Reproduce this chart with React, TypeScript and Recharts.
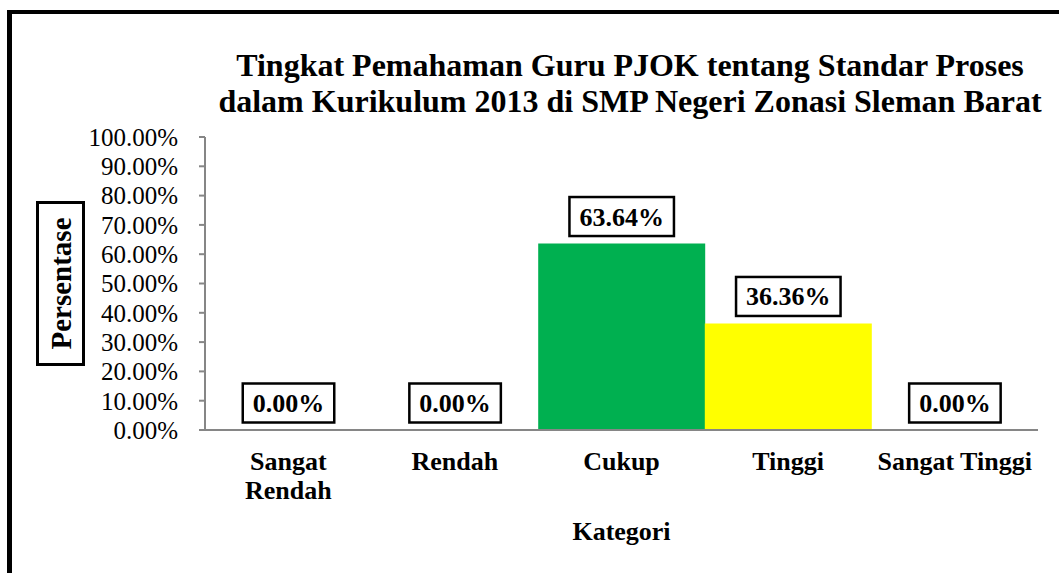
import { BarChart, Bar, XAxis, YAxis, Cell, LabelList } from 'recharts'

const kategori = ['Sangat Rendah', 'Rendah', 'Cukup', 'Tinggi', 'Sangat Tinggi']
const persentase = [0, 0, 63.64, 36.36, 0]
const warna = ['none', 'none', '#00B050', '#FFFF00', 'none']
const yTicks = [0, 10, 20, 30, 40, 50, 60, 70, 80, 90, 100]

const judul = [
  'Tingkat Pemahaman Guru PJOK tentang Standar Proses',
  'dalam Kurikulum 2013 di SMP Negeri Zonasi Sleman Barat',
]

const data = kategori.map((k, i) => ({ kategori: k, nilai: persentase[i] }))

const FONT = '"Liberation Serif", "Times New Roman", serif'

let ctx: CanvasRenderingContext2D | null = null
function measure(text: string, font: string) {
  if (!ctx) ctx = document.createElement('canvas').getContext('2d')
  if (!ctx) return text.length * 13
  ctx.font = font
  return ctx.measureText(text).width
}

function fmt(v: number) {
  return v.toFixed(2) + '%'
}

// excel style boxed data label
function BoxLabel(props: any) {
  const { x, y, width, height, value } = props
  const text = fmt(Number(value))
  const w = measure(text, `bold 26px ${FONT}`) + 20
  const h = 39
  const cx = x + width / 2
  const top = height < 0 ? y + height : y
  const cy = (Number(value) === 0 ? y + height : top) - 27
  return (
    <g>
      <rect x={cx - w / 2} y={cy - h / 2} width={w} height={h} fill="#fff" stroke="#000" strokeWidth={2.5} />
      <text x={cx} y={cy + 9} textAnchor="middle" fontWeight="bold" fontSize={26} fill="#000" fontFamily={FONT}>
        {text}
      </text>
    </g>
  )
}

function CatTick(props: any) {
  const { x, y, payload } = props
  const words = String(payload.value).split(' ')
  const lines: string[] = []
  let cur = ''
  for (const w of words) {
    const next = cur ? cur + ' ' + w : w
    if (cur && measure(next, `bold 26px ${FONT}`) > 162) {
      lines.push(cur)
      cur = w
    } else cur = next
  }
  if (cur) lines.push(cur)
  return (
    <text x={x} y={y + 40} textAnchor="middle" fontWeight="bold" fontSize={26} fill="#000" fontFamily={FONT}>
      {lines.map((l, i) => (
        <tspan key={i} x={x} dy={i === 0 ? 0 : 29}>{l}</tspan>
      ))}
    </text>
  )
}

function YTitle(props: any) {
  const vb = props.viewBox
  const cy = vb.y + vb.height / 2
  const cx = 60.5
  return (
    <g>
      <rect x={cx - 23} y={cy - 81} width={46} height={162} fill="#fff" stroke="#000" strokeWidth={3} />
      <text x={cx} y={cy} transform={`rotate(-90 ${cx} ${cy})`} dy={10} textAnchor="middle"
        fontWeight="bold" fontSize={29} fill="#000" fontFamily={FONT}>
        Persentase
      </text>
    </g>
  )
}

function XTitle(props: any) {
  const vb = props.viewBox
  return (
    <text x={vb.x + vb.width / 2} y={540} textAnchor="middle" fontWeight="bold" fontSize={26} fill="#000" fontFamily={FONT}>
      Kategori
    </text>
  )
}

export default function App() {
  return (
    <div style={{ position: 'absolute', left: 0, top: 0, width: 1059, height: 573, overflow: 'hidden', background: '#fff', fontFamily: FONT }}>
      <div style={{ position: 'absolute', left: 7, top: 10, right: -20, bottom: -20, borderTop: '4px solid #000', borderLeft: '5px solid #000' }} />
      <div style={{ position: 'absolute', left: 180, width: 900, top: 47, textAlign: 'center', fontWeight: 'bold', fontSize: 32, lineHeight: '36px', whiteSpace: 'nowrap', color: '#000' }}>
        {judul.map((t, i) => <div key={i}>{t}</div>)}
      </div>
      <BarChart width={1059} height={573} data={data} margin={{ top: 137, right: 21, bottom: 0, left: 0 }} barCategoryGap={0} style={{ position: 'absolute', left: 0, top: 0 }}>
        <XAxis dataKey="kategori" height={143} tickLine={false} tickSize={0} tickMargin={0} axisLine={{ stroke: '#868686', strokeWidth: 2 }}
          tick={<CatTick />} interval={0} label={<XTitle />} />
        <YAxis width={205} domain={[0, 100]} ticks={yTicks} tickFormatter={fmt} tickSize={6} tickMargin={21}
          axisLine={{ stroke: '#868686', strokeWidth: 2 }} tickLine={{ stroke: '#868686', strokeWidth: 2 }}
          tick={{ fill: '#000', fontSize: 25, fontFamily: FONT }} interval={0} label={<YTitle />} />
        <Bar dataKey="nilai" isAnimationActive={false} minPointSize={1}>
          {data.map((d, i) => (
            <Cell key={i} fill={warna[i]} />
          ))}
          <LabelList dataKey="nilai" content={<BoxLabel />} />
        </Bar>
      </BarChart>
    </div>
  )
}
